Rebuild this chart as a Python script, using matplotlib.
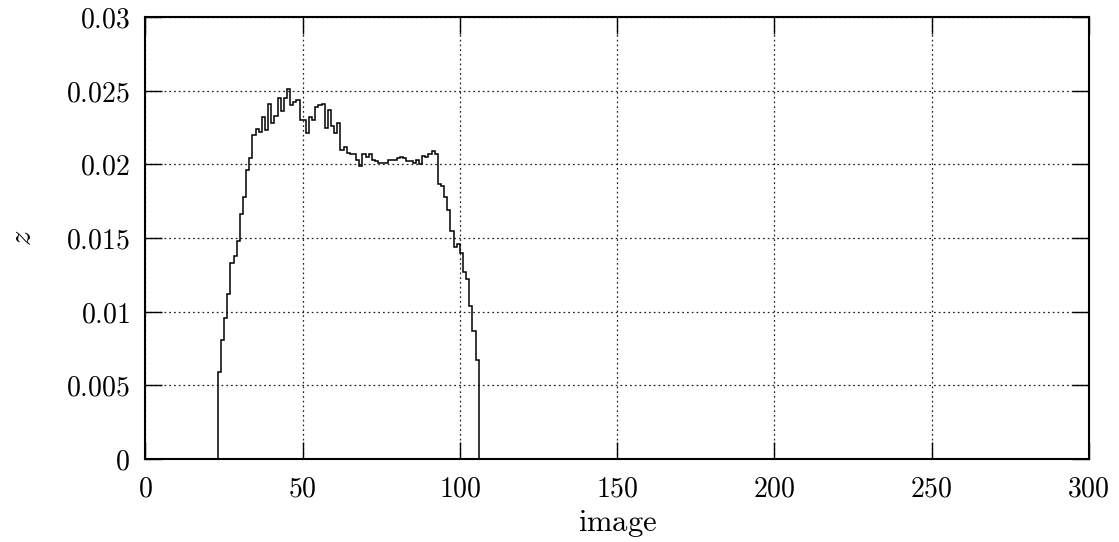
import numpy as np
import matplotlib
matplotlib.use("Agg")
import matplotlib.pyplot as plt

plt.rcParams["mathtext.fontset"] = "cm"
plt.rcParams["font.family"] = "serif"
plt.rcParams["font.serif"] = ["DejaVu Serif"]

# Histogram of z per image: one value per unit-wide bin, first bin starts at image 23
first_image = 23
z_values = [
    0.0059, 0.0081, 0.0096, 0.0112, 0.0133, 0.0138, 0.0148, 0.0166, 0.0178, 0.0196,
    0.0204, 0.0220, 0.0224, 0.0222, 0.0232, 0.0223, 0.0241, 0.0228, 0.0233, 0.0245,
    0.0236, 0.0245, 0.0251, 0.0240, 0.0242, 0.0244, 0.0230, 0.0230, 0.0221, 0.0232,
    0.0230, 0.0239, 0.0240, 0.0241, 0.0225, 0.0237, 0.0226, 0.0221, 0.0228, 0.0210,
    0.0212, 0.0208, 0.0207, 0.0207, 0.0203, 0.0199, 0.0207, 0.0205, 0.0207, 0.0203,
    0.0202, 0.0201, 0.0201, 0.0201, 0.0203, 0.0203, 0.0203, 0.0204, 0.0205, 0.0204,
    0.0202, 0.0202, 0.0201, 0.0203, 0.0200, 0.0206, 0.0205, 0.0207, 0.0209, 0.0207,
    0.0187, 0.0185, 0.0178, 0.0169, 0.0155, 0.0144, 0.0146, 0.0140, 0.0127, 0.0122,
    0.0104, 0.0087, 0.0067,
]
x_ticks = [0, 50, 100, 150, 200, 250, 300]
y_ticks = [0, 0.005, 0.01, 0.015, 0.02, 0.025, 0.03]
y_tick_labels = ["0", "0.005", "0.01", "0.015", "0.02", "0.025", "0.03"]

edges = np.arange(first_image, first_image + len(z_values) + 1)

fig = plt.figure(figsize=(11.19, 5.42), dpi=100)
ax = fig.add_axes([0.130, 0.153, 0.843, 0.8156])

ax.stairs(z_values, edges, baseline=0, color="black", linewidth=1.1, zorder=3)

ax.set_xlim(0, 300)
ax.set_ylim(0, 0.03)
ax.set_xticks(x_ticks)
ax.set_yticks(y_ticks)
ax.set_xticklabels([f"${t}$" for t in x_ticks])
ax.set_yticklabels([f"${t}$" for t in y_tick_labels])

ax.tick_params(axis="both", which="major", direction="in", length=12, width=1.0,
               top=True, right=True, labelsize=20, pad=11, colors="black")
ax.tick_params(axis="x", pad=12)

for s in ax.spines.values():
    s.set_linewidth(1.5)

ax.grid(True, color="#222222", linestyle=(0, (1.4, 2.4)), linewidth=0.9, zorder=0)

ax.set_xlabel(r"$\mathrm{image}$", fontsize=22, va="center")
ax.xaxis.set_label_coords(0.5, -0.145)
ax.set_ylabel(r"$z$", fontsize=22, va="center")
ax.yaxis.set_label_coords(-0.13, 0.5)

fig.savefig("out.png", dpi=100)
